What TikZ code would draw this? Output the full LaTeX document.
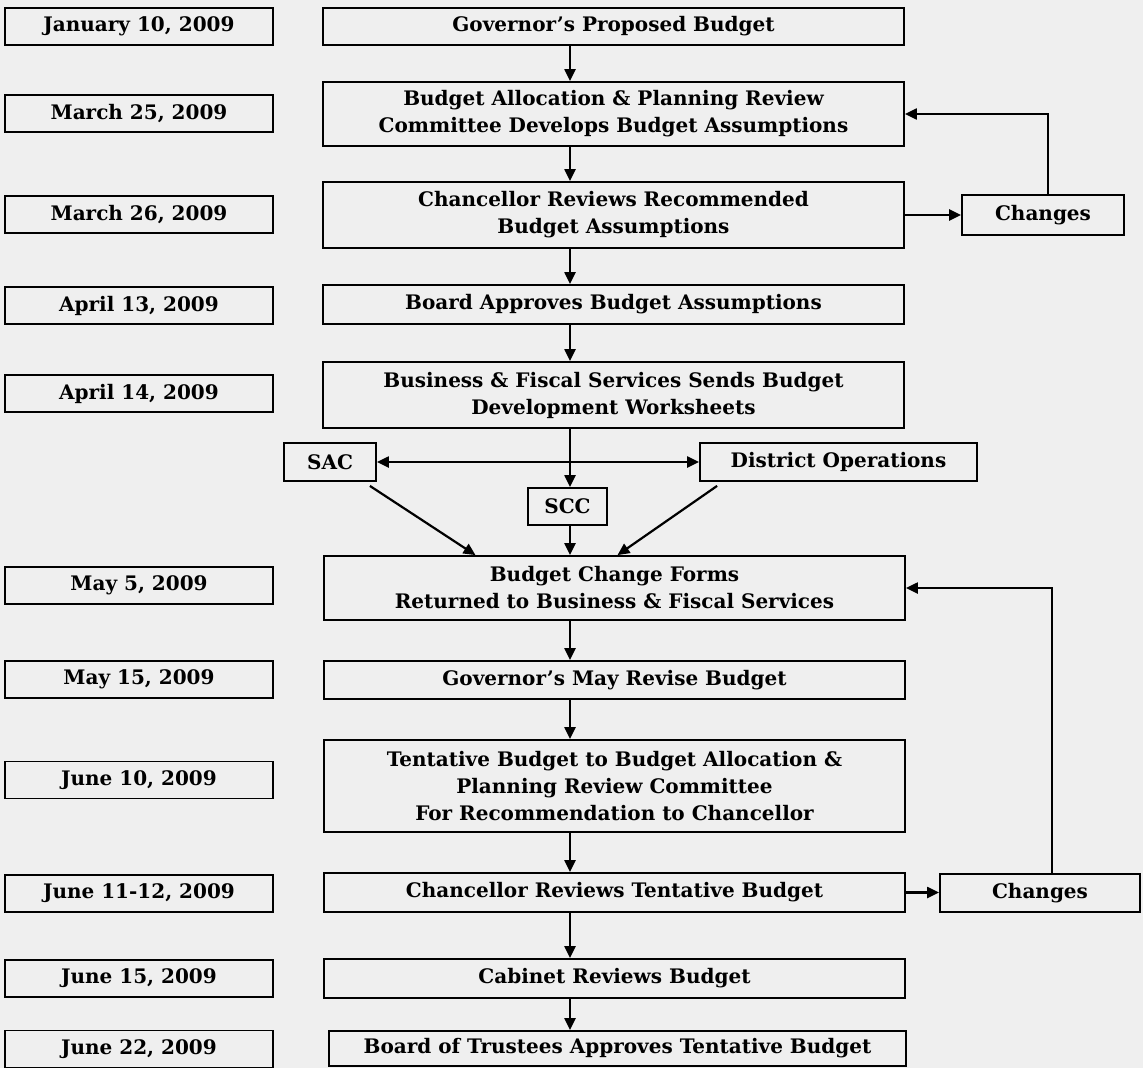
\documentclass[tikz,border=0pt]{standalone}
\usepackage{fontspec}
\setmainfont{DejaVu Serif}
\usetikzlibrary{arrows.meta,positioning}
\definecolor{paper}{RGB}{239,239,239}
\tikzset{
  box/.style={draw,line width=1.8pt,align=center,inner sep=0pt,
    font=\bfseries\fontsize{20}{27}\selectfont},
  datebox/.style={box,minimum width=268pt,minimum height=37pt},
  stepbox/.style={box,minimum width=581pt},
  flow/.style={-{Triangle[length=12pt,width=11pt]},line width=2.2pt},
}

\begin{document}
\begin{tikzpicture}[x=1pt,y=-1pt]
  \fill[paper] (0,0) rectangle (1143,1068);
  \useasboundingbox (0,0) rectangle (1143,1068);
  \coordinate (spine) at (570,0);
  % Dates
  \node[datebox] (d1) at (139,26.5) {January 10, 2009};
  \node[datebox] (d2) at (139,113.5) {March 25, 2009};
  \node[datebox] (d3) at (139,214.5) {March 26, 2009};
  \node[datebox] (d4) at (139,305.5) {April 13, 2009};
  \node[datebox] (d5) at (139,393.5) {April 14, 2009};
  \node[datebox] (d6) at (139,585.5) {May 5, 2009};
  \node[datebox] (d7) at (139,679.5) {May 15, 2009};
  \node[datebox] (d8) at (139,780) {June 10, 2009};
  \node[datebox] (d9) at (139,893.5) {June 11-12, 2009};
  \node[datebox] (d10) at (139,978.5) {June 15, 2009};
  \node[datebox] (d11) at (139,1049) {June 22, 2009};
  % Steps
  \node[stepbox,minimum height=37pt] (s1) at (613.5,26.5) {Governor’s Proposed Budget};
  \node[stepbox,minimum height=64pt] (s2) at (613.5,114) {Budget Allocation \& Planning Review\\Committee Develops Budget Assumptions};
  \node[stepbox,minimum height=66pt] (s3) at (613.5,215) {Chancellor Reviews Recommended\\Budget Assumptions};
  \node[stepbox,minimum height=39pt] (s4) at (613.5,304.5) {Board Approves Budget Assumptions};
  \node[stepbox,minimum height=66pt] (s5) at (613.5,395) {Business \& Fiscal Services Sends Budget\\Development Worksheets};
  \node[stepbox,minimum height=64pt] (s6) at (614.5,588) {Budget Change Forms\\Returned to Business \& Fiscal Services};
  \node[stepbox,minimum height=38pt] (s7) at (614.5,680) {Governor’s May Revise Budget};
  \node[stepbox,minimum height=92pt] (s8) at (614.5,786) {Tentative Budget to Budget Allocation \&\\Planning Review Committee\\For Recommendation to Chancellor};
  \node[stepbox,minimum height=39pt] (s9) at (614.5,892.5) {Chancellor Reviews Tentative Budget};
  \node[stepbox,minimum height=39pt] (s10) at (614.5,978.5) {Cabinet Reviews Budget};
  \node[stepbox,minimum height=35pt,minimum width=577pt] (s11) at (617.5,1048.5) {Board of Trustees Approves Tentative Budget};
  % Campuses
  \node[box,minimum width=92pt,minimum height=38pt] (sac) at (330,462) {SAC};
  \node[box,minimum width=277pt,minimum height=38pt] (ops) at (838.5,462) {District Operations};
  \node[box,minimum width=79pt,minimum height=37pt] (scc) at (567.5,506.5) {SCC};
  % Changes
  \node[box,minimum width=162pt,minimum height=40pt] (ch1) at (1043,215) {Changes};
  \node[box,minimum width=200pt,minimum height=38pt] (ch2) at (1040,893) {Changes};
  % Flow
  \foreach \a/\b in {s1/s2,s2/s3,s3/s4,s4/s5,s6/s7,s7/s8,s8/s9,s9/s10,s10/s11}
    \draw[flow] (\a.south -| spine) -- (\b.north -| spine);
  \draw[flow] (s5.south -| spine) -- (scc.north -| spine);
  \draw[flow] (scc.south -| spine) -- (s6.north -| spine);
  \draw[flow,{Triangle[length=12pt,width=11pt]}-{Triangle[length=12pt,width=11pt]}] (sac.east) -- (ops.west);
  \draw[flow] ([xshift=-7pt,yshift=-4pt]sac.south east) -- ([xshift=-139pt]s6.north);
  \draw[flow] ([xshift=18pt,yshift=-4pt]ops.south west) -- ([xshift=3pt]s6.north);
  % Feedback
  \draw[flow] (s3.east) -- (s3.east -| ch1.west);
  \draw[flow] ([xshift=5pt]ch1.north) |- (s2.east);
  \draw[flow] (s9.east) -- (s9.east -| ch2.west);
  \draw[flow] ([xshift=12pt]ch2.north) |- (s6.east);
\end{tikzpicture}
\end{document}
